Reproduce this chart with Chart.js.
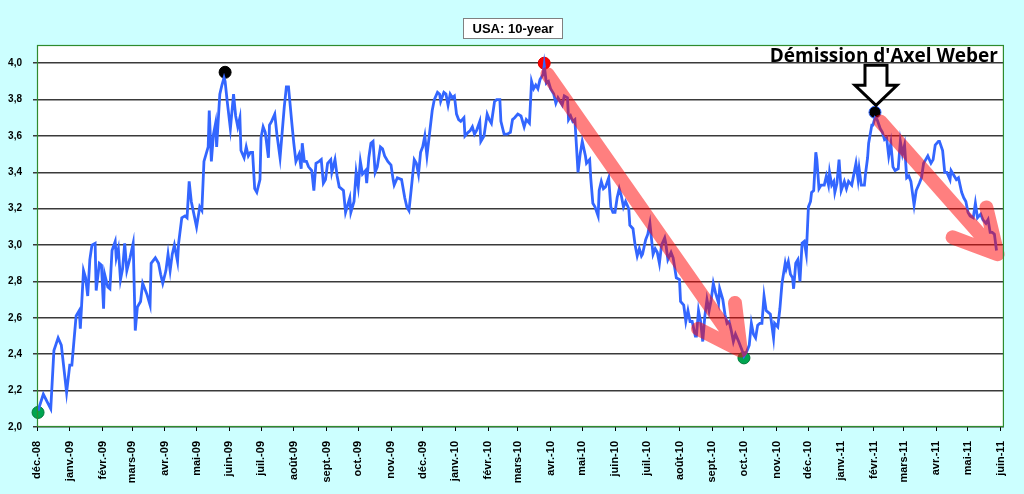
<!DOCTYPE html>
<html>
<head>
<meta charset="utf-8">
<script src="https://cdn.jsdelivr.net/npm/chart.js@4"></script>
<style>
  html, body { margin: 0; padding: 0; background: #ccffff; }
  #wrap { width: 1024px; height: 494px; }
</style>
</head>
<body>
<div id="wrap"><canvas id="yieldChart" width="1024" height="494"></canvas></div>
<script>
// days counted from 1 Dec 2008, yields in %
const days = [
  1, 6, 13, 16, 20, 23, 28, 31, 33, 37, 40, 41, 44, 46, 48, 50, 52, 55, 56, 59,
  61, 63, 64, 67, 69, 71, 74, 75, 77, 79, 81, 83, 85, 88, 91, 93, 95, 98, 100, 104,
  107, 108, 112, 115, 117, 119, 122, 124, 126, 128, 130, 133, 134, 137, 140, 142, 144, 146, 151, 154,
  156, 158, 162, 163, 165, 167, 169, 170, 173, 175, 177, 178, 180, 183, 186, 188, 190, 192, 193, 196,
  198, 200, 202, 204, 206, 208, 211, 212, 214, 216, 219, 220, 222, 225, 227, 230, 232, 234, 236, 238,
  241, 243, 245, 248, 250, 251, 253, 255, 257, 260, 262, 264, 267, 269, 271, 273, 275, 278, 279, 282,
  284, 286, 290, 292, 294, 296, 297, 300, 302, 304, 306, 308, 311, 312, 314, 316, 318, 320, 322, 325,
  327, 329, 332, 335, 337, 338, 341, 345, 348, 350, 352, 354, 357, 359, 361, 363, 365, 367, 369, 371,
  374, 376, 379, 381, 382, 385, 387, 389, 391, 393, 395, 397, 399, 401, 404, 405, 408, 410, 412, 414,
  416, 419, 420, 423, 426, 428, 430, 433, 435, 438, 439, 442, 445, 448, 450, 452, 455, 458, 461, 463,
  466, 468, 470, 472, 474, 476, 479, 480, 482, 484, 486, 489, 491, 493, 495, 497, 499, 502, 503, 505,
  507, 509, 512, 514, 516, 519, 520, 523, 524, 526, 528, 531, 532, 534, 536, 538, 541, 543, 545, 547,
  549, 551, 553, 555, 557, 560, 561, 564, 566, 568, 570, 572, 573, 576, 578, 580, 583, 585, 587, 589,
  591, 594, 595, 597, 600, 602, 605, 608, 609, 612, 614, 616, 618, 620, 623, 624, 626, 628, 630, 632,
  634, 636, 638, 640, 642, 645, 646, 649, 651, 653, 655, 657, 659, 661, 664, 668, 669, 672, 674, 676,
  678, 680, 682, 684, 686, 688, 690, 692, 694, 697, 698, 701, 703, 705, 708, 709, 711, 713, 715, 716,
  718, 720, 722, 724, 726, 728, 730, 732, 733, 735, 737, 738, 740, 742, 745, 747, 749, 750, 752, 754,
  755, 757, 759, 761, 764, 766, 768, 771, 772, 775, 777, 778, 780, 783, 784, 786, 787, 790, 791, 793,
  795, 798, 800, 802, 804, 806, 808, 810, 812, 815, 817, 819, 821, 823, 825, 827, 830, 832, 835, 837,
  839, 841, 843, 846, 848, 850, 853, 854, 857, 859, 861, 864, 865, 868, 870, 872, 875, 877, 879, 881,
  883, 886, 888, 890, 893, 895, 898, 900, 902, 904, 906, 908
];
const yields = [
  2.09, 2.18, 2.10, 2.42, 2.49, 2.45, 2.19, 2.34, 2.34, 2.61, 2.64, 2.54, 2.86, 2.82, 2.72, 2.92, 3.00, 3.01, 2.75, 2.90,
  2.89, 2.65, 2.84, 2.77, 2.76, 2.97, 3.02, 2.93, 2.98, 2.81, 2.87, 3.01, 2.86, 2.93, 3.01, 2.53, 2.66, 2.69, 2.79, 2.73,
  2.67, 2.90, 2.93, 2.90, 2.84, 2.79, 2.86, 2.95, 2.86, 2.95, 3.00, 2.91, 3.01, 3.15, 3.16, 3.15, 3.35, 3.24, 3.10, 3.21,
  3.19, 3.46, 3.54, 3.74, 3.46, 3.61, 3.67, 3.54, 3.83, 3.88, 3.92, 3.90, 3.79, 3.64, 3.83, 3.71, 3.65, 3.70, 3.52, 3.48,
  3.54, 3.49, 3.51, 3.51, 3.31, 3.29, 3.36, 3.59, 3.65, 3.62, 3.48, 3.66, 3.68, 3.72, 3.61, 3.48, 3.62, 3.76, 3.87, 3.87,
  3.68, 3.56, 3.46, 3.50, 3.42, 3.56, 3.46, 3.46, 3.43, 3.41, 3.30, 3.45, 3.46, 3.47, 3.34, 3.36, 3.45, 3.47, 3.40, 3.47,
  3.38, 3.32, 3.30, 3.18, 3.22, 3.26, 3.18, 3.24, 3.40, 3.32, 3.46, 3.39, 3.41, 3.34, 3.48, 3.56, 3.57, 3.40, 3.43, 3.54,
  3.53, 3.49, 3.46, 3.44, 3.36, 3.33, 3.37, 3.36, 3.26, 3.21, 3.19, 3.30, 3.47, 3.45, 3.39, 3.51, 3.54, 3.60, 3.49, 3.59,
  3.74, 3.80, 3.84, 3.83, 3.79, 3.84, 3.83, 3.77, 3.83, 3.81, 3.82, 3.72, 3.69, 3.68, 3.70, 3.60, 3.62, 3.63, 3.65, 3.61,
  3.63, 3.68, 3.57, 3.60, 3.72, 3.69, 3.67, 3.79, 3.80, 3.80, 3.68, 3.61, 3.61, 3.62, 3.69, 3.70, 3.72, 3.71, 3.65, 3.69,
  3.67, 3.90, 3.86, 3.88, 3.86, 3.91, 3.94, 3.99, 3.89, 3.90, 3.86, 3.83, 3.78, 3.81, 3.79, 3.77, 3.82, 3.81, 3.69, 3.71,
  3.68, 3.69, 3.40, 3.50, 3.57, 3.49, 3.45, 3.47, 3.37, 3.23, 3.21, 3.16, 3.30, 3.35, 3.31, 3.32, 3.37, 3.21, 3.18, 3.18,
  3.26, 3.31, 3.27, 3.21, 3.24, 3.20, 3.11, 3.09, 3.00, 2.94, 2.98, 2.94, 2.95, 3.03, 3.06, 3.12, 2.95, 2.98, 2.96, 2.90,
  3.00, 3.04, 3.01, 2.92, 2.96, 2.93, 2.82, 2.81, 2.69, 2.67, 2.58, 2.64, 2.58, 2.58, 2.50, 2.50, 2.64, 2.58, 2.47, 2.61,
  2.70, 2.64, 2.70, 2.79, 2.74, 2.68, 2.76, 2.70, 2.62, 2.57, 2.58, 2.53, 2.47, 2.51, 2.47, 2.41, 2.39, 2.42, 2.45, 2.57,
  2.51, 2.49, 2.56, 2.57, 2.57, 2.72, 2.64, 2.63, 2.62, 2.49, 2.57, 2.55, 2.65, 2.79, 2.90, 2.87, 2.91, 2.84, 2.82, 2.76,
  2.90, 2.92, 2.80, 3.01, 3.02, 2.95, 3.21, 3.24, 3.29, 3.30, 3.51, 3.47, 3.31, 3.33, 3.33, 3.38, 3.33, 3.40, 3.33, 3.35,
  3.29, 3.34, 3.47, 3.30, 3.35, 3.31, 3.35, 3.33, 3.36, 3.45, 3.36, 3.42, 3.33, 3.33, 3.39, 3.48, 3.56, 3.66, 3.66, 3.70,
  3.69, 3.64, 3.62, 3.58, 3.59, 3.49, 3.56, 3.43, 3.41, 3.42, 3.57, 3.50, 3.55, 3.37, 3.38, 3.35, 3.22, 3.30, 3.34, 3.37,
  3.45, 3.47, 3.49, 3.45, 3.47, 3.55, 3.57, 3.57, 3.52, 3.40, 3.40, 3.36, 3.41, 3.38, 3.36, 3.37, 3.29, 3.26, 3.24, 3.18,
  3.16, 3.15, 3.23, 3.15, 3.17, 3.14, 3.12, 3.14, 3.07, 3.07, 3.06, 2.97
];

// highlighted points
const markerDays = [1, 178, 480, 669, 793];
const markerValues = [2.08, 3.95, 4.00, 2.38, 3.73];
const markerColors = ["#00a550", "#000000", "#ff0000", "#00a550", "#000000"];
const markerBorders = ["#007a3a", "#000000", "#e00000", "#007a3a", "#3366ff"];

// trend arrows: [fromDay, fromValue, toDay, toValue]
const trendArrows = [
  [483, 3.94, 666, 2.42],
  [798, 3.68, 909, 2.95]
];

const yTicks = [2.0, 2.2, 2.4, 2.6, 2.8, 3.0, 3.2, 3.4, 3.6, 3.8, 4.0];
const monthNames = ["janv.", "févr.", "mars", "avr.", "mai", "juin", "juil.", "août", "sept.", "oct.", "nov.", "déc."];

const startUTC = Date.UTC(2008, 11, 1);
const monthTicks = [];
const monthLabels = {};
for (let i = 0; i <= 30; i++) {
  const y = 2008 + Math.floor((11 + i) / 12);
  const m = (11 + i) % 12;
  const d = Math.round((Date.UTC(y, m, 1) - startUTC) / 86400000);
  monthTicks.push(d);
  monthLabels[d] = monthNames[m] + "-" + String(y % 100).padStart(2, "0");
}

const chartDecor = {
  id: "chartDecor",
  beforeDraw(chart) {
    const ctx = chart.ctx, a = chart.chartArea;
    ctx.save();
    ctx.fillStyle = "#ccffff";
    ctx.fillRect(0, 0, chart.width, chart.height);
    ctx.fillStyle = "#ffffff";
    ctx.fillRect(a.left, a.top, a.right - a.left, a.bottom - a.top);
    ctx.restore();
  },
  afterDatasetDraw(chart, args) {
    if (args.index !== 0) return;
    const ctx = chart.ctx, xs = chart.scales.x, ys = chart.scales.y;
    ctx.save();
    ctx.strokeStyle = "rgba(255, 0, 0, 0.5)";
    ctx.lineWidth = 14;
    ctx.lineCap = "round";
    ctx.lineJoin = "round";
    trendArrows.forEach(([d0, v0, d1, v1]) => {
      const x0 = xs.getPixelForValue(d0), y0 = ys.getPixelForValue(v0);
      const x1 = xs.getPixelForValue(d1), y1 = ys.getPixelForValue(v1);
      const ang = Math.atan2(y1 - y0, x1 - x0) + Math.PI;
      const len = 48, spread = 28 * Math.PI / 180;
      // one path so the overlapping parts are not painted twice
      ctx.beginPath();
      ctx.moveTo(x0, y0);
      ctx.lineTo(x1, y1);
      ctx.moveTo(x1 + len * Math.cos(ang - spread), y1 + len * Math.sin(ang - spread));
      ctx.lineTo(x1, y1);
      ctx.lineTo(x1 + len * Math.cos(ang + spread), y1 + len * Math.sin(ang + spread));
      ctx.stroke();
    });
    ctx.restore();
  },
  afterDraw(chart) {
    const ctx = chart.ctx, a = chart.chartArea;
    const xs = chart.scales.x, ys = chart.scales.y;
    ctx.save();
    // plot border
    ctx.strokeStyle = "#2e8b2e";
    ctx.lineWidth = 1.2;
    ctx.strokeRect(a.left + 0.5, a.top + 0.5, a.right - a.left - 1, a.bottom - a.top - 1);

    // title box
    ctx.fillStyle = "#ffffff";
    ctx.fillRect(463, 18, 99, 20);
    ctx.strokeStyle = "#808080";
    ctx.lineWidth = 1;
    ctx.strokeRect(463.5, 18.5, 99, 20);
    ctx.fillStyle = "#000000";
    ctx.font = "bold 13px 'Liberation Sans', Arial, sans-serif";
    ctx.textAlign = "center";
    ctx.textBaseline = "middle";
    ctx.fillText("USA: 10-year", 513, 29);

    // Weber annotation
    ctx.font = "bold 19px 'Open Sans', Lato, sans-serif";
    ctx.textAlign = "right";
    ctx.textBaseline = "alphabetic";
    ctx.fillText("Démission d'Axel Weber", a.right - 6, 62);

    const tx = xs.getPixelForValue(markerDays[4]) + 1;
    const ty = ys.getPixelForValue(markerValues[4]) - 7;
    ctx.beginPath();
    ctx.moveTo(tx - 11, ty - 40);
    ctx.lineTo(tx + 11, ty - 40);
    ctx.lineTo(tx + 11, ty - 20);
    ctx.lineTo(tx + 21, ty - 20);
    ctx.lineTo(tx, ty);
    ctx.lineTo(tx - 21, ty - 20);
    ctx.lineTo(tx - 11, ty - 20);
    ctx.closePath();
    ctx.fillStyle = "#ffffff";
    ctx.fill();
    ctx.strokeStyle = "#000000";
    ctx.lineWidth = 3;
    ctx.lineJoin = "miter";
    ctx.stroke();
    ctx.restore();
  }
};

new Chart(document.getElementById("yieldChart"), {
  type: "line",
  data: {
    datasets: [
      {
        data: days.map((d, i) => ({ x: d, y: yields[i] })),
        borderColor: "#3366ff",
        borderWidth: 2.8,
        pointRadius: 0,
        tension: 0
      },
      {
        data: markerDays.map((d, i) => ({ x: d, y: markerValues[i] })),
        showLine: false,
        clip: false,
        pointRadius: 6,
        pointBackgroundColor: markerColors,
        pointBorderColor: markerBorders,
        pointBorderWidth: 1
      }
    ]
  },
  options: {
    responsive: false,
    animation: false,
    layout: { padding: { top: 45, right: 19, left: 0, bottom: 0 } },
    plugins: { legend: { display: false }, tooltip: { enabled: false }, title: { display: false } },
    scales: {
      x: {
        type: "linear",
        min: 0,
        max: 915,
        afterBuildTicks(scale) { scale.ticks = monthTicks.map(v => ({ value: v })); },
        afterFit(scale) { scale.height = 67; },
        grid: { drawOnChartArea: false, drawTicks: true, tickLength: 4, color: "#000000" },
        border: { display: false },
        ticks: {
          autoSkip: false,
          minRotation: 90,
          maxRotation: 90,
          padding: 10,
          color: "#000000",
          font: { family: "'Liberation Sans', Arial, sans-serif", size: 11, weight: "bold" },
          callback: v => monthLabels[v] || ""
        }
      },
      y: {
        min: 2.0,
        max: 4.1,
        afterBuildTicks(scale) { scale.ticks = yTicks.map(v => ({ value: v })); },
        afterFit(scale) { scale.width = 37; },
        grid: { color: "#3a3a3a", lineWidth: 1.5, tickLength: 4 },
        border: { display: false },
        ticks: {
          padding: 11,
          color: "#000000",
          font: { family: "'Liberation Sans', Arial, sans-serif", size: 10, weight: "bold" },
          callback: v => v.toFixed(1).replace(".", ",")
        }
      }
    }
  },
  plugins: [chartDecor]
});
</script>
</body>
</html>
